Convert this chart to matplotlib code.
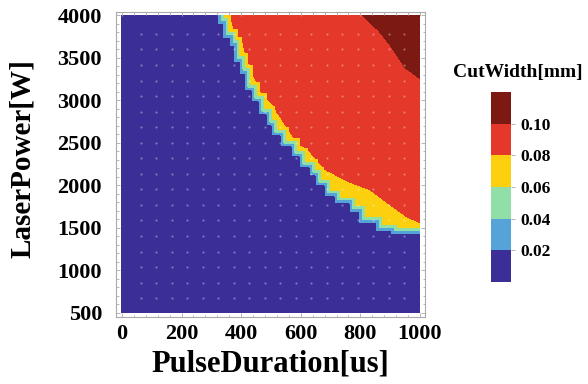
import numpy as np
import matplotlib
matplotlib.use("Agg")
import matplotlib.pyplot as plt
from matplotlib.ticker import AutoMinorLocator, FormatStrFormatter

plt.rcParams['font.family'] = ['Liberation Serif', 'DejaVu Serif']
plt.rcParams['font.weight'] = 'bold'

# --- data -----------------------------------------------------------------
# Staircase onset of cutting: for each power band (lower bound, W), the pulse
# duration (us) above which the cut width exceeds 0.02 mm
stair_low = [3900, 3740, 3640, 3460, 3320, 3120, 2990, 2840, 2710, 2590, 2460,
             2340, 2220, 2120, 2000, 1880, 1790, 1690, 1560, 1470, 1430]
stair_edge = [322, 339, 362, 376, 396, 413, 436, 460, 485, 505, 535,
              570, 597, 630, 651, 681, 715, 765, 799, 856, 906]
# 0.08 mm contour (yellow/red border): (power W, duration us)
red_power = [1557, 1628, 1745, 1945, 2035, 2186, 2419, 2486, 2720, 2840, 2955,
             3070, 3190, 3390, 3700, 3780, 4000]
red_duration = [1000, 956, 909, 832, 763, 680, 625, 591, 547, 523, 506,
                466, 456, 423, 403, 379, 362]
# 0.10 mm contour (red/dark-red border)
dark_power = [3256, 3384, 3616, 3814, 4000]
dark_duration = [1000, 950, 907, 863, 807]

levels = [0.0, 0.02, 0.04, 0.06, 0.08, 0.10, 0.12]
band_colors = ['#3b2f97', '#55a3d8', '#8fdfa6', '#fcd00e', '#e3382a', '#7b1912']
cbar_ticks = [0.02, 0.04, 0.06, 0.08, 0.10]
x_ticks = [0, 200, 400, 600, 800, 1000]
y_ticks = [500, 1000, 1500, 2000, 2500, 3000, 3500, 4000]

# --- build the cut-width field on a fine grid -----------------------------
fx = np.linspace(0, 1000, 300)
fy = np.linspace(500, 4000, 300)
FX, FY = np.meshgrid(fx, fy)

lows = np.array(stair_low)
edges = np.array(stair_edge, dtype=float)
row_edge = np.full(fy.shape, np.inf)
for k, yv in enumerate(fy):
    hit = np.nonzero(yv >= lows)[0]
    if hit.size:
        row_edge[k] = edges[hit[0]]
blue = FX < row_edge[:, None]
cut = ~blue

# Chebyshev distance (in grid cells) from the uncut region -> thin parallel bands
dist = np.zeros(cut.shape)
cur = cut.copy()
for _ in range(20):
    dist += cur
    p = np.pad(cur, 1, mode='edge')
    nxt = np.ones_like(cur)
    for di in range(3):
        for dj in range(3):
            nxt &= p[di:di + cur.shape[0], dj:dj + cur.shape[1]]
    cur = nxt
ramp = 0.02 + (dist - 0.5) * 0.0068

red_row = np.interp(fy, red_power, red_duration)
red_row[fy < red_power[0]] = np.inf
dark_row = np.interp(fy, dark_power, dark_duration)
dark_row[fy < dark_power[0]] = np.inf
target = np.where(FX >= dark_row[:, None], 0.115,
                  np.where(FX >= red_row[:, None], 0.09, 0.07))
Z = np.where(blue, 0.005, np.minimum(target, ramp))

# --- draw -----------------------------------------------------------------
fig = plt.figure(figsize=(5.88, 3.84), dpi=100)
ax = fig.add_axes([0.1973, 0.1745, 0.5255, 0.794])
cs = ax.contourf(fx, fy, Z, levels=levels, colors=band_colors)

# faint sample-point dots
dx = np.linspace(63, 947, 18)
dy = np.linspace(674, 3779, 18)
DX, DY = np.meshgrid(dx, dy)
ax.scatter(DX.ravel(), DY.ravel(), s=2.5, color='white', alpha=0.35, linewidths=0, zorder=3)

ax.set_xlim(-20, 1017)
ax.set_ylim(453, 4035)
ax.set_xticks(x_ticks)
ax.set_yticks(y_ticks)
ax.xaxis.set_minor_locator(AutoMinorLocator(5))
ax.yaxis.set_minor_locator(AutoMinorLocator(5))
ax.tick_params(which='both', direction='in', top=True, right=True, color='#aaaaaa', width=0.6)
ax.tick_params(which='major', length=3, labelsize=16)
ax.tick_params(axis='y', which='major', pad=10)
ax.tick_params(axis='x', which='major', pad=5)
ax.tick_params(which='minor', length=1.8)
for s in ax.spines.values():
    s.set_color('#aaaaaa')
    s.set_linewidth(0.8)

ax.set_xlabel('PulseDuration[us]', fontsize=22, fontweight='bold')
ax.set_ylabel('LaserPower[W]', fontsize=21, fontweight='bold')
ax.xaxis.set_label_coords(0.5, -0.105)
ax.yaxis.set_label_coords(-0.258, 0.52)

cax = fig.add_axes([0.835, 0.2656, 0.034, 0.4948])
cb = fig.colorbar(cs, cax=cax, ticks=cbar_ticks)
cb.outline.set_visible(False)
cax.yaxis.set_major_formatter(FormatStrFormatter('%.2f'))
cax.tick_params(length=3, color='#aaaaaa', width=0.6, labelsize=12.5, pad=4)
fig.text(0.880, 1 - 72 / 384, 'CutWidth[mm]', ha='center', va='center', fontsize=14, fontweight='bold')

fig.savefig('out.png', dpi=100)
